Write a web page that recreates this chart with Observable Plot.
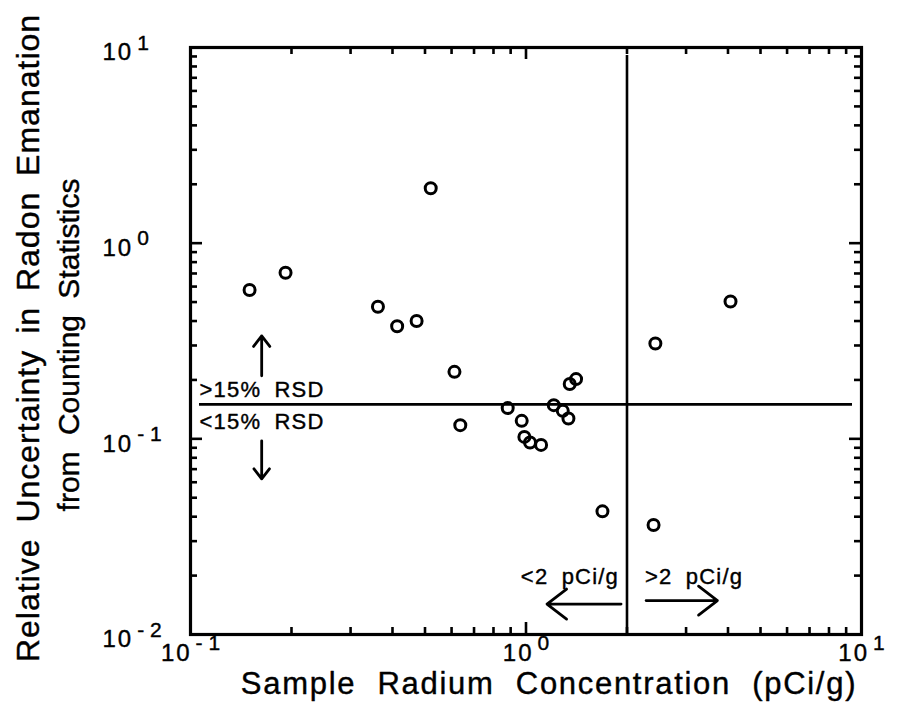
<!DOCTYPE html>
<html><head><meta charset="utf-8">
<script src="https://cdn.jsdelivr.net/npm/d3@7"></script>
<script src="https://cdn.jsdelivr.net/npm/@observablehq/plot@0.6"></script>
<style>
body{margin:0;background:#fff;}
</style></head><body><div id="chart"></div>
<script>
// Data
const radium = [0.150,0.192,0.362,0.413,0.472,0.520,0.612,0.637,0.882,0.971,0.989,1.028,1.109,1.210,1.287,1.338,1.350,1.41,1.69,2.43,2.40,4.07];
const uncertainty = [0.576,0.706,0.473,0.376,0.400,1.91,0.220,0.1175,0.1436,0.1236,0.1023,0.0957,0.0931,0.1486,0.139,0.127,0.1906,0.202,0.0426,0.307,0.0363,0.503];
const xTickExponents = [-1, 0, 1];
const yTickExponents = [-2, -1, 0, 1];
const rsdThreshold = 0.15;
const radiumThreshold = 2;
const xTitle = "Sample Radium Concentration (pCi/g)";
const yTitleLines = ["Relative Uncertainty in Radon Emanation", "from Counting Statistics"];
const rsdLabels = [">15% RSD", "<15% RSD"];
const radiumLabels = ["<2 pCi/g", ">2 pCi/g"];
// annotation arrows in data units
const arrowX1 = [0.163, 0.163, 1.92, 2.28];
const arrowY1 = [0.21, 0.0977, 0.0143, 0.0149];
const arrowX2 = [0.163, 0.163, 1.155, 3.72];
const arrowY2 = [0.336, 0.0624, 0.0143, 0.0149];

const W = 897, H = 710;
const mL = 190, mR = 36, mT = 47, mB = 76;
const plotW = W - mL - mR, plotH = H - mT - mB;
const majorLen = 12, minorLen = 7;

const points = radium.map((x, i) => ({x, y: uncertainty[i]}));
const decadesX = [-1, 0];
const decadesY = [-2, -1, 0];
const xMajor = xTickExponents.map(e => 10 ** e);
const yMajor = yTickExponents.map(e => 10 ** e);
const xMinor = decadesX.flatMap(e => [2,3,4,5,6,7,8,9].map(m => m * 10 ** e));
const yMinor = decadesY.flatMap(e => [2,3,4,5,6,7,8,9].map(m => m * 10 ** e));
const arrows = arrowX1.map((x1, i) => ({x1, y1: arrowY1[i], x2: arrowX2[i], y2: arrowY2[i]}));

const tw = 2.6;
const ink = {fill: "black", stroke: "black", strokeWidth: 0.4};
const chart = Plot.plot({
  width: W, height: H,
  marginLeft: mL, marginRight: mR, marginTop: mT, marginBottom: mB,
  style: {fontFamily: "Liberation Sans, Arial, sans-serif", color: "black", background: "white"},
  x: {type: "log", domain: [0.1, 10], axis: null},
  y: {type: "log", domain: [0.01, 10], axis: null},
  marks: [
    // ticks bottom / top
    Plot.ruleX(xMajor, {x: d => d, insetTop: plotH - majorLen, strokeWidth: tw}),
    Plot.ruleX(xMajor, {x: d => d, insetBottom: plotH - majorLen, strokeWidth: tw}),
    Plot.ruleX(xMinor, {x: d => d, insetTop: plotH - minorLen, strokeWidth: tw}),
    Plot.ruleX(xMinor, {x: d => d, insetBottom: plotH - minorLen, strokeWidth: tw}),
    // ticks left / right
    Plot.ruleY(yMajor, {y: d => d, insetRight: plotW - majorLen, strokeWidth: tw}),
    Plot.ruleY(yMajor, {y: d => d, insetLeft: plotW - majorLen, strokeWidth: tw}),
    Plot.ruleY(yMinor, {y: d => d, insetRight: plotW - minorLen, strokeWidth: tw}),
    Plot.ruleY(yMinor, {y: d => d, insetLeft: plotW - minorLen, strokeWidth: tw}),
    Plot.frame({stroke: "black", strokeWidth: 3.2}),
    // threshold lines
    Plot.ruleX([radiumThreshold], {strokeWidth: 2.6, insetTop: 8}),
    Plot.ruleY([rsdThreshold], {strokeWidth: 2.6, insetLeft: 9, insetRight: 9}),
    // arrows
    Plot.arrow(arrows, {x1: "x1", y1: "y1", x2: "x2", y2: "y2", strokeWidth: 2.8, headLength: 16, headAngle: 75, stroke: "black"}),
    // annotation labels
    Plot.text([rsdLabels[0]], {x: 0.1, y: rsdThreshold, textAnchor: "start", dx: 9, dy: -14, fontSize: 22, ...ink}),
    Plot.text([rsdLabels[1]], {x: 0.1, y: rsdThreshold, textAnchor: "start", dx: 9, dy: 18, fontSize: 22, ...ink}),
    Plot.text([radiumLabels[0]], {x: radiumThreshold, frameAnchor: "bottom", textAnchor: "end", dx: -8, dy: -51, fontSize: 22, ...ink}),
    Plot.text([radiumLabels[1]], {x: radiumThreshold, frameAnchor: "bottom", textAnchor: "start", dx: 18, dy: -51, fontSize: 22, ...ink}),
    // data
    Plot.dot(points, {x: "x", y: "y", r: 5.5, stroke: "black", strokeWidth: 3, fill: "none"}),
    // tick labels
    Plot.text(xTickExponents, {x: e => 10 ** e, text: e => `10^${e}`, frameAnchor: "bottom", textAnchor: "middle", dy: 26, fontSize: 24, ...ink}),
    Plot.text(yTickExponents, {y: e => 10 ** e, text: e => `10^${e}`, frameAnchor: "left", textAnchor: "start", dx: -88, dy: 5, fontSize: 24, ...ink}),
    // titles
    Plot.text([xTitle], {frameAnchor: "bottom", textAnchor: "middle", dx: 23, dy: 59.5, fontSize: 31, ...ink}),
    Plot.text([yTitleLines[0]], {frameAnchor: "left", textAnchor: "middle", dx: -162, dy: -3, rotate: -90, fontSize: 32, ...ink}),
    Plot.text([yTitleLines[1]], {frameAnchor: "left", textAnchor: "middle", dx: -121, dy: 4, rotate: -90, fontSize: 30, ...ink})
  ]
});

const NS = "http://www.w3.org/2000/svg";
chart.querySelectorAll("text").forEach(t => {
  const s = t.textContent;
  if (/^10\^/.test(s)) {
    const [b, e] = s.split("^");
    t.textContent = "";
    const s1 = document.createElementNS(NS, "tspan");
    s1.textContent = b;
    s1.setAttribute("letter-spacing", "2");
    const s2 = document.createElementNS(NS, "tspan");
    s2.textContent = e.replace("-", "- ");
    s2.setAttribute("dy", "-0.5em");
    s2.setAttribute("dx", "4");
    s2.setAttribute("font-size", "21");
    t.appendChild(s1); t.appendChild(s2);
  } else if (s === xTitle) {
    t.style.letterSpacing = "1.7px";
    t.style.wordSpacing = "11px";
  } else if (s === yTitleLines[0]) {
    t.style.letterSpacing = "1px";
    t.style.wordSpacing = "6px";
  } else if (s === yTitleLines[1]) {
    t.style.letterSpacing = "0px";
    t.style.wordSpacing = "8px";
  } else if (rsdLabels.includes(s) || radiumLabels.includes(s)) {
    t.style.letterSpacing = "1.2px";
    t.style.wordSpacing = "6px";
  }
});
document.getElementById("chart").appendChild(chart);
</script></body></html>
